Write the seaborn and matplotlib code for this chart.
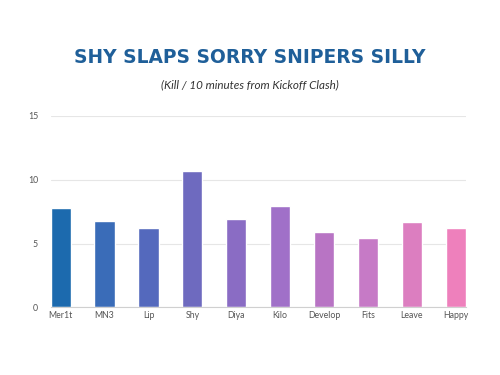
import matplotlib
matplotlib.use("Agg")
import matplotlib.pyplot as plt
import seaborn as sns
import pandas as pd

players = ["Mer1t", "MN3", "Lip", "Shy", "Diya", "Kilo", "Develop", "Fits", "Leave", "Happy"]
kills_per_10 = [7.8, 6.8, 6.2, 10.7, 6.9, 7.9, 5.9, 5.4, 6.7, 6.2]
bar_colors = ["#1c6aae", "#3a6cb8", "#5469bd", "#6e6abf", "#8a6cc4",
              "#a070c8", "#b874c4", "#c67ac6", "#dc7ec0", "#ee80bc"]
y_ticks = [0, 5, 10, 15]

sns.set_theme(style="white")
plt.rcParams['font.family'] = ['Lato', 'DejaVu Sans']

df = pd.DataFrame({"player": players, "kills": kills_per_10})

fig = plt.figure(figsize=(5, 3.75), dpi=100)
ax = fig.add_axes([0.101, 0.1805, 0.831, 0.5105])
sns.barplot(data=df, x="player", y="kills", hue="player", palette=bar_colors,
            width=0.46, legend=False, ax=ax, saturation=1)

ax.set_ylim(0, 15)
ax.set_xlim(-0.23, 9.23)
ax.set_yticks(y_ticks)
ax.yaxis.grid(True, color="#e6e6e6", linewidth=0.8)
ax.set_axisbelow(True)
for s in ["top", "right", "left"]:
    ax.spines[s].set_visible(False)
ax.spines["bottom"].set_color("#d0d0d0")
ax.spines["bottom"].set_linewidth(0.8)
ax.tick_params(axis="both", length=0, labelsize=6.3, colors="#555555")
ax.tick_params(axis="y", pad=9)
ax.tick_params(axis="x", pad=3)
ax.set_xlabel("")
ax.set_ylabel("")

fig.text(0.5, 0.846, "SHY SLAPS SORRY SNIPERS SILLY", ha="center", va="center",
         fontsize=13.4, fontweight="bold", color="#1f5f99",
         family=["DejaVu Sans"])
fig.text(0.5, 0.773, "(Kill / 10 minutes from Kickoff Clash)", ha="center", va="center",
         fontsize=8.4, style="italic", color="#333333")

fig.savefig("out.png", dpi=100)
